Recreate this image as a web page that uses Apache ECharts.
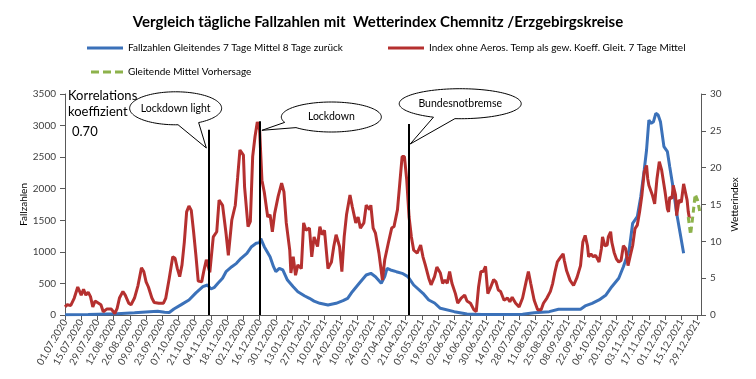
<!DOCTYPE html>
<html><head><meta charset="utf-8">
<script src="https://cdn.jsdelivr.net/npm/echarts@6/dist/echarts.min.js"></script>
<style>html,body{margin:0;padding:0;background:#fff}#c{width:756px;height:379px}</style>
</head><body><div id="c"></div>
<script>
// x values are day offsets from 01.07.2020
const START = Date.UTC(2020, 6, 1);
const DAY = 86400000;
const titleText = 'Vergleich tägliche Fallzahlen mit  Wetterindex Chemnitz /Erzgebirgskreise';
const seriesNames = [
  'Fallzahlen Gleitendes 7 Tage Mittel 8 Tage zurück',
  'Index ohne Aeros. Temp als gew. Koeff. Gleit. 7 Tage Mittel',
  'Gleitende Mittel Vorhersage'
];
const blueDays = [0,20,45,60,73,80,86,90,94,100,107,113,119,123,126,129,132,136,139,144,148,152,157,161,165,168,169,172,177,180,182,185,188,192,197,201,207,211,215,220,227,234,240,244,248,254,260,264,268,273,276,278,281,286,291,296,301,309,314,319,324,336,347,360,380,395,405,418,426,445,449,455,461,467,472,478,482,487,490,494,497,500,502,504,506,508,510,512,514,517,520,522,525,528,531,534];
const blueCases = [5,8,20,35,53,60,45,40,95,160,237,350,448,475,412,439,502,581,686,765,818,898,977,1082,1136,1146,1210,1082,923,765,686,739,713,554,448,369,301,264,220,185,158,185,227,264,369,502,634,660,607,502,607,739,713,686,660,607,475,343,238,190,106,53,16,8,8,12,37,53,90,90,143,185,238,317,448,581,765,1029,1452,1557,1874,2296,2613,3088,3036,3062,3194,3168,3062,2666,2586,2349,2007,1611,1294,977];
const redDays = [0,2,5,8,11,14,16,18,20,22,24,26,29,31,33,36,40,43,45,47,50,52,55,57,60,63,66,68,70,72,75,77,81,85,87,90,93,95,97,99,101,103,105,107,109,111,113,115,118,120,122,125,128,131,133,136,139,141,144,147,149,151,154,155,158,160,162,164,166,168,170,172,175,177,179,181,184,187,189,191,194,195,197,199,201,204,206,208,211,213,215,218,220,222,224,227,230,232,234,237,239,241,243,246,248,251,253,255,258,260,263,264,266,268,271,274,276,279,282,284,287,289,291,293,295,297,299,301,304,307,309,311,314,316,319,321,324,326,328,330,332,334,337,339,342,345,347,350,353,355,357,359,361,363,365,367,370,372,374,376,379,382,384,386,389,392,395,398,400,402,405,408,411,413,416,419,421,423,425,428,430,431,433,436,439,442,445,447,449,451,452,454,456,458,461,463,464,466,468,469,471,472,474,476,478,480,482,484,486,488,490,492,494,496,498,500,502,503,504,507,509,511,513,515,518,520,521,522,524,525,527,528,530,532,534,535,537,538,539];
const redIndex = [1.1,1.4,1.3,2.3,3.8,2.7,3.5,2.7,3.1,2.5,1.1,1.9,1.6,1.4,0.45,0.8,0.8,0.2,0.9,2.3,3.2,2.7,1.6,1.4,2.3,4.0,6.4,5.9,4.5,3.8,2.3,1.7,1.6,1.6,2.3,5.0,7.9,7.7,6.3,5.2,6.8,9.9,14.0,14.8,14.2,11.3,8.1,4.6,4.5,6.1,7.5,5.8,10.6,11.3,15.6,14.9,11.1,8.1,12.9,14.9,18.6,22.4,21.7,17.4,12.0,12.7,21.5,24.2,26.2,25.1,18.3,16.7,13.3,13.6,11.3,13.8,16.1,17.9,16.7,12.5,8.8,5.7,7.9,5.4,6.8,6.3,12.5,11.5,11.8,7.9,10.6,9.3,12.0,10.9,11.5,6.3,7.2,9.3,10.9,9.3,5.9,10.6,13.6,16.3,14.7,12.5,13.3,11.8,12.5,14.9,14.3,14.9,11.8,11.1,8.4,4.75,7.5,9.7,11.8,12.0,14.3,17.9,21.5,21.5,18.3,13.3,10.6,8.8,8.4,9.5,7.9,6.8,5.0,4.1,5.2,6.5,5.7,4.3,4.75,4.3,5.9,4.3,2.9,1.6,2.3,2.7,1.9,1.6,0.7,0.45,3.8,5.9,5.9,6.6,2.9,3.6,4.8,4.5,3.4,3.2,2.0,2.3,1.8,2.4,1.6,1.1,2.3,4.5,5.9,4.3,2.0,0.7,0.7,1.6,2.3,3.2,4.3,5.9,7.2,7.9,8.3,7.4,6.0,4.7,4.0,5.1,6.7,9.9,10.8,9.4,7.9,8.3,7.9,8.1,7.2,9.0,10.6,9.4,9.5,10.6,11.3,9.9,8.5,7.6,7.2,7.4,9.4,9.0,6.7,8.1,9.4,11.7,12.2,14.0,16.3,19.4,20.3,18.5,17.6,16.3,15.1,18.5,20.8,19.7,16.7,14.4,14.0,16.0,15.8,17.6,16.3,13.5,15.6,15.3,17.8,17.6,15.6,14.0,13.1];
const greenDays = [538,540,542,544,546,548];
const greenIndex = [13.3,10.9,13.5,16.4,15.6,14.0];
const eventNames = ['Lockdown light', 'Lockdown', 'Bundesnotbremse'];
const eventDays = [124, 168, 297];
const eventLineTop = [2935, 3068, 3025];
const tipDays = [122, 170, 298];
const tipCases = [2645, 2925, 2708];
const corrLabel = 'Korrelations\nkoeffizient';
const corrValue = '0.70';

const FONT = 'Lato, "Noto Sans", sans-serif';
const zip = (a, b) => a.map((x, i) => [x, b[i]]);
function fmtDay(v) {
  const d = new Date(START + v * DAY);
  const p = n => String(n).padStart(2, '0');
  return p(d.getUTCDate()) + '.' + p(d.getUTCMonth() + 1) + '.' + d.getUTCFullYear();
}
const LINE_ICON = 'path://M0,0H36V3H0Z';
const DASH_ICON = 'path://M0,0H8V3H0ZM12,0H20V3H12ZM24,0H32V3H24Z';

const chart = echarts.init(document.getElementById('c'), null, {renderer: 'canvas'});
const axisCol = '#595959';
const legendText = {fontFamily: FONT, fontSize: 10, color: '#000'};
chart.setOption({
  animation: false,
  backgroundColor: '#fff',
  title: {text: titleText, left: 'center', top: 10,
    textStyle: {fontFamily: FONT, fontSize: 15, fontWeight: 'bold', color: '#000'}},
  legend: [
    {data: [seriesNames[0]], left: 82, top: 38, itemWidth: 36, itemHeight: 3, icon: LINE_ICON, textStyle: legendText},
    {data: [seriesNames[1]], left: 383, top: 38, itemWidth: 36, itemHeight: 3, icon: LINE_ICON, textStyle: legendText},
    {data: [seriesNames[2]], left: 86, top: 62, itemWidth: 32, itemHeight: 3, icon: DASH_ICON, textStyle: legendText}
  ],
  grid: {left: 65, right: 55, top: 94, bottom: 64},
  xAxis: {
    type: 'value', min: 0, max: 549, interval: 14,
    splitLine: {show: false},
    axisLine: {lineStyle: {color: axisCol}},
    axisTick: {show: true, length: 5, lineStyle: {color: axisCol}},
    axisLabel: {rotate: 60, margin: 5, fontFamily: FONT, fontSize: 10, color: '#404040',
      showMaxLabel: false, formatter: v => (v % 14 === 0 ? fmtDay(v) : '')}
  },
  yAxis: [
    {type: 'value', min: 0, max: 3500, interval: 500, position: 'left',
      name: 'Fallzahlen', nameLocation: 'middle', nameRotate: 90, nameGap: 36, nameMoveOverlap: false,
      nameTextStyle: {fontFamily: FONT, fontSize: 10, color: '#000'},
      splitLine: {show: false},
      axisLine: {show: true, lineStyle: {color: axisCol}},
      axisTick: {show: true, length: 5, lineStyle: {color: axisCol}},
      axisLabel: {fontFamily: FONT, fontSize: 10, color: '#404040', margin: 9, formatter: v => String(v)}},
    {type: 'value', min: 0, max: 30, interval: 5, position: 'right',
      name: 'Wetterindex', nameLocation: 'middle', nameRotate: 90, nameGap: 29, nameMoveOverlap: false,
      nameTextStyle: {fontFamily: FONT, fontSize: 10, color: '#000'},
      splitLine: {show: false},
      axisLine: {show: true, lineStyle: {color: axisCol}},
      axisTick: {show: true, length: 5, lineStyle: {color: axisCol}},
      axisLabel: {fontFamily: FONT, fontSize: 10, color: '#404040', margin: 9, formatter: v => String(v)}}
  ],
  series: [
    {name: seriesNames[0], type: 'line', yAxisIndex: 0, data: zip(blueDays, blueCases),
      symbol: 'none', lineStyle: {width: 3, color: '#3B71B9'}, itemStyle: {color: '#3B71B9'}},
    {name: seriesNames[1], type: 'line', yAxisIndex: 1, data: zip(redDays, redIndex),
      symbol: 'none', lineStyle: {width: 3, color: '#B5302F'}, itemStyle: {color: '#B5302F'}},
    {name: seriesNames[2], type: 'line', yAxisIndex: 1, data: zip(greenDays, greenIndex),
      symbol: 'none', lineStyle: {width: 3, color: '#8DB24B', type: [6, 4]}, itemStyle: {color: '#8DB24B'}},
    {name: 'events', type: 'line', yAxisIndex: 0, data: [], symbol: 'none',
      markLine: {silent: true, symbol: 'none', label: {show: false},
        lineStyle: {color: '#000', width: 2, type: 'solid'},
        data: eventDays.map((d, i) => [{coord: [d, 0]}, {coord: [d, eventLineTop[i]]}])}}
  ]
});

// callout bubbles: layout offsets (pixels) relative to the anchor tip
const calloutLayout = [
  {dx: -30.7, dy: -39.7, rx: 46, ry: 16.5, a0: 60, a1: 87},
  {dx: 69.4, dy: -13.3, rx: 50, ry: 15, a0: 135, a1: 159},
  {dx: 50, dy: -40.3, rx: 61, ry: 15, a0: 95, a1: 116}
];
const els = [];
eventNames.forEach((name, i) => {
  const tip = chart.convertToPixel({xAxisIndex: 0, yAxisIndex: 0}, [tipDays[i], tipCases[i]]);
  const L = calloutLayout[i];
  const cx = tip[0] + L.dx, cy = tip[1] + L.dy;
  const pts = [];
  for (let a = L.a1; a < L.a0 + 360; a += 3) {
    const r = a * Math.PI / 180;
    pts.push([cx + L.rx * Math.cos(r), cy + L.ry * Math.sin(r)]);
  }
  const r0 = L.a0 * Math.PI / 180;
  pts.push([cx + L.rx * Math.cos(r0), cy + L.ry * Math.sin(r0)]);
  pts.push(tip);
  els.push({type: 'polygon', z: 100, shape: {points: pts},
    style: {fill: '#fff', stroke: '#000', lineWidth: 1}});
  els.push({type: 'text', z: 101, x: cx, y: cy,
    style: {text: name, font: '10.5px ' + FONT, fill: '#000',
      align: 'center', verticalAlign: 'middle', textAlign: 'center', textVerticalAlign: 'middle'}});
});
els.push({type: 'text', z: 101, x: 68, y: 88,
  style: {text: corrLabel, font: '13px ' + FONT, fill: '#000', lineHeight: 16}});
els.push({type: 'text', z: 101, x: 72, y: 125,
  style: {text: corrValue, font: '13px ' + FONT, fill: '#000'}});
chart.setOption({graphic: els});
</script>
</body></html>
